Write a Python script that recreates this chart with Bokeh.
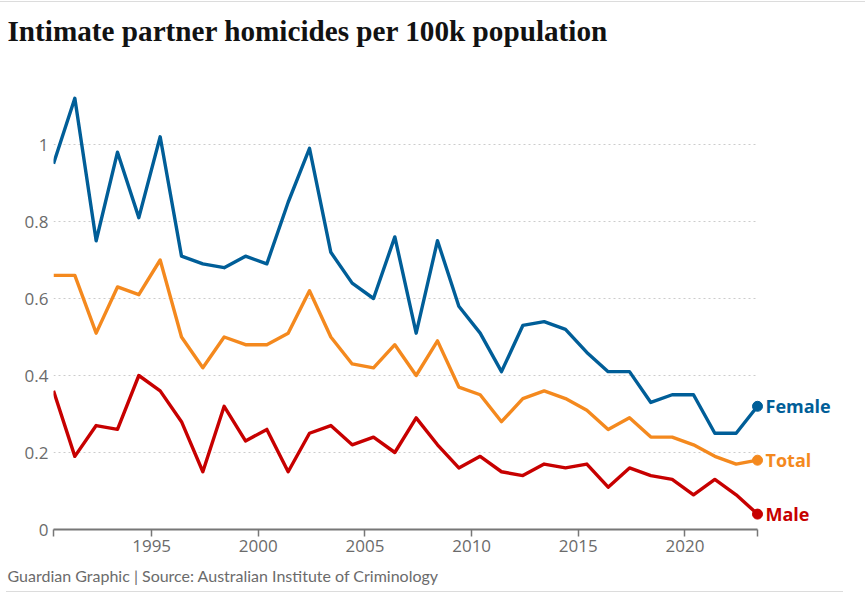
from bokeh.plotting import figure
from bokeh.models import Range1d, FixedTicker, Title, ColumnDataSource
from bokeh.core.properties import value
from bokeh.embed import file_html
from bokeh.resources import INLINE

# ---- data ----
years = [1990.4, 1991.4, 1992.4, 1993.4, 1994.4, 1995.4, 1996.4, 1997.4, 1998.4, 1999.4,
         2000.4, 2001.4, 2002.4, 2003.4, 2004.4, 2005.4, 2006.4, 2007.4, 2008.4, 2009.4,
         2010.4, 2011.4, 2012.4, 2013.4, 2014.4, 2015.4, 2016.4, 2017.4, 2018.4, 2019.4,
         2020.4, 2021.4, 2022.4, 2023.4]
female = [0.95, 1.12, 0.75, 0.98, 0.81, 1.02, 0.71, 0.69, 0.68, 0.71,
          0.69, 0.85, 0.99, 0.72, 0.64, 0.60, 0.76, 0.51, 0.75, 0.58,
          0.51, 0.41, 0.53, 0.54, 0.52, 0.46, 0.41, 0.41, 0.33, 0.35,
          0.35, 0.25, 0.25, 0.32]
total = [0.66, 0.66, 0.51, 0.63, 0.61, 0.70, 0.50, 0.42, 0.50, 0.48,
         0.48, 0.51, 0.62, 0.50, 0.43, 0.42, 0.48, 0.40, 0.49, 0.37,
         0.35, 0.28, 0.34, 0.36, 0.34, 0.31, 0.26, 0.29, 0.24, 0.24,
         0.22, 0.19, 0.17, 0.18]
male = [0.36, 0.19, 0.27, 0.26, 0.40, 0.36, 0.28, 0.15, 0.32, 0.23,
        0.26, 0.15, 0.25, 0.27, 0.22, 0.24, 0.20, 0.29, 0.22, 0.16,
        0.19, 0.15, 0.14, 0.17, 0.16, 0.17, 0.11, 0.16, 0.14, 0.13,
        0.09, 0.13, 0.09, 0.04]
series_names = ["Female", "Total", "Male"]
series_colors = ["#005e98", "#f4891e", "#c70000"]
x_tick_values = [1995, 2000, 2005, 2010, 2015, 2020]
x_tick_labels = ["1995", "2000", "2005", "2010", "2015", "2020"]
y_tick_values = [0, 0.2, 0.4, 0.6, 0.8, 1.0]
y_tick_labels = ["0", "0.2", "0.4", "0.6", "0.8", "1"]

title_text = "Intimate partner homicides per 100k population"
footer_text = "Guardian Graphic | Source: Australian Institute of Criminology"

# ---- layout ----
W, H = 865, 596
LEFT, TOP, BOTTOM = 53, 56, 67
DATA_RIGHT = 757      # pixel where the axis / data end
PX_PER_UNIT = 385     # vertical pixels per 1.0 of value
frame_w = W - LEFT
frame_h = H - TOP - BOTTOM
x_start = years[0]
x_end = years[0] + (years[-1] - years[0]) * frame_w / (DATA_RIGHT - LEFT)
y_end = frame_h / PX_PER_UNIT

rule = "linear-gradient(#dcdcdc, #dcdcdc)"
p = figure(width=W, height=H, output_backend="svg", toolbar_location=None,
           x_range=Range1d(x_start, x_end), y_range=Range1d(0, y_end),
           min_border_left=LEFT, min_border_right=0,
           min_border_top=TOP, min_border_bottom=BOTTOM,
           styles={
               "background-color": "white",
               "background-image": f"{rule}, {rule}",
               "background-size": "865px 1px, 837px 1px",
               "background-position": "0px 1px, 6px 591px",
               "background-repeat": "no-repeat",
           })
p.outline_line_color = None
p.background_fill_color = "white"
p.border_fill_color = None

sans = "Open Sans"
grey_text = "#6b6b6b"

# title (above) and footer (below)
p.title.text = title_text
p.title.align = "left"
p.title.offset = 7 - LEFT
p.title.text_font = "Liberation Serif"
p.title.text_font_style = "bold"
p.title.text_font_size = "29.2px"
p.title.text_color = "#121212"
p.title.standoff = 20

p.add_layout(Title(text=footer_text, align="left", offset=7 - LEFT,
                   text_font="Lato", text_font_style="normal",
                   text_font_size="16px", text_color=grey_text,
                   standoff=18), "below")

# x axis
xa = p.xaxis[0]
xa.bounds = (years[0], years[-1])
xa.ticker = FixedTicker(ticks=[years[0]] + x_tick_values + [years[-1]])
overrides = {years[0]: "", years[-1]: ""}
overrides.update({v: l for v, l in zip(x_tick_values, x_tick_labels)})
xa.major_label_overrides = overrides
xa.axis_line_color = "#777777"
xa.axis_line_width = 2
xa.major_tick_line_color = "#777777"
xa.major_tick_line_width = 1.5
xa.major_tick_in = 0
xa.major_tick_out = 7
xa.minor_tick_line_color = None
xa.major_label_standoff = 3
xa.major_label_text_font = sans
xa.major_label_text_font_size = "17px"
xa.major_label_text_color = grey_text

# y axis
ya = p.yaxis[0]
ya.ticker = FixedTicker(ticks=y_tick_values)
ya.major_label_overrides = {v: l for v, l in zip(y_tick_values, y_tick_labels)}
ya.axis_line_color = None
ya.major_tick_line_color = None
ya.minor_tick_line_color = None
ya.major_tick_in = 0
ya.major_tick_out = 0
ya.major_label_standoff = 5
ya.major_label_text_font = sans
ya.major_label_text_font_size = "17px"
ya.major_label_text_color = grey_text

# gridlines only across the data span
p.xgrid.grid_line_color = None
p.ygrid.grid_line_color = None
grid_vals = y_tick_values[1:]
p.segment(x0=[years[0]] * len(grid_vals), x1=[years[-1]] * len(grid_vals),
          y0=grid_vals, y1=grid_vals, line_color="#cccccc", line_width=1,
          line_dash="2 3")

# lines
for vals, col in zip([female, total, male], series_colors):
    p.line(years, vals, line_color=col, line_width=3.4, line_join="round")

# end dots + labels
end_src = ColumnDataSource(dict(
    x=[years[-1]] * 3,
    y=[female[-1], total[-1], male[-1]],
    name=series_names,
    color=series_colors,
))
p.scatter("x", "y", source=end_src, size=10, color="color", line_color="color")
p.text("x", "y", text="name", source=end_src, text_color="color",
       x_offset=8, text_baseline="middle", text_align="left",
       text_font=value(sans), text_font_style="bold", text_font_size="18px")

open("out.html", "w").write(file_html(p, INLINE))
